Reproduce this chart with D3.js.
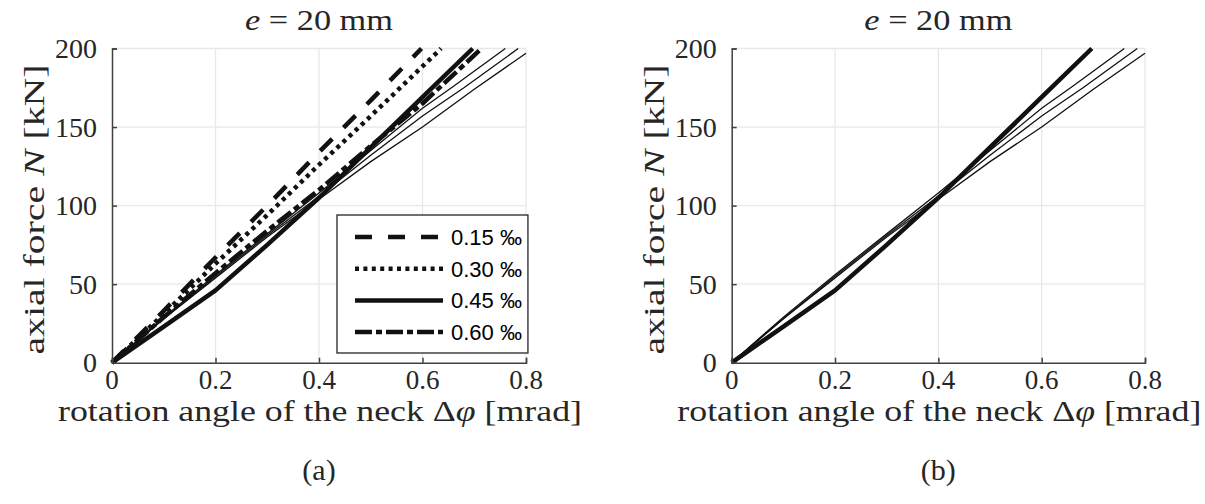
<!DOCTYPE html>
<html>
<head>
<meta charset="utf-8">
<script src="https://cdn.jsdelivr.net/npm/d3@7"></script>
<style>
  body { margin: 0; background: #fff; }
  svg { display: block; }
  .tick-label, .axis-label, .title, .sub { font-family: "Liberation Serif", serif; fill: #262626; }
  .leg-text { font-family: "Liberation Sans", Arial, sans-serif; fill: #000; }
</style>
</head>
<body>
<svg width="1205" height="504"></svg>
<script>
  var width = 1205;
  var height = 504;

  // axis ticks
  var xTicks = [0, 0.2, 0.4, 0.6, 0.8];
  var yTicks = [0, 50, 100, 150, 200];

  // thin reference curves (same in both panels)
  var thinA = [[0, 0], [0.1, 29], [0.2, 56], [0.3, 82], [0.4, 108], [0.5, 135], [0.6, 162], [0.66, 176], [0.76, 200]];
  var thinB = [[0, 0], [0.1, 28], [0.2, 55], [0.3, 81], [0.4, 106], [0.5, 132], [0.6, 157], [0.68, 175], [0.785, 200]];
  var thinC = [[0, 0], [0.1, 28], [0.2, 54], [0.3, 80], [0.4, 104], [0.5, 128], [0.6, 150], [0.70, 174], [0.80, 197]];

  // thick curves, panel (a)
  var s015 = [[0, 0], [0.1, 33], [0.2, 67], [0.3, 100], [0.4, 134], [0.5, 167], [0.598, 200]];
  var s030 = [[0, 0], [0.1, 31], [0.2, 63], [0.3, 94], [0.4, 126], [0.5, 157], [0.636, 200]];
  var s045 = [[0, 0], [0.1, 23], [0.2, 46], [0.3, 75], [0.4, 105], [0.5, 137], [0.6, 169], [0.697, 200]];
  var s060 = [[0, 0], [0.1, 29], [0.2, 57], [0.3, 84], [0.4, 110], [0.5, 138], [0.6, 165], [0.714, 200]];

  var legendLabels = ['0.15 ‰', '0.30 ‰', '0.45 ‰', '0.60 ‰'];
  var dashes = ['17,16', '4,4.4', null, '17,4,6,4'];

  var svg = d3.select('svg')
    .attr('width', width)
    .attr('height', height);

  function drawPanel(x0, x1, seriesThick, dashList, subLabel, withLegend) {
    var x = d3.scaleLinear().domain([0, 0.8]).range([x0, x1]);
    var y = d3.scaleLinear().domain([0, 200]).range([362.7, 48.5]);
    var g = svg.append('g');

    // grid
    g.selectAll('line.gx')
      .data(xTicks.slice(1))
      .enter()
      .append('line')
      .attr('x1', function (d) { return x(d); })
      .attr('x2', function (d) { return x(d); })
      .attr('y1', y(0))
      .attr('y2', y(200))
      .attr('stroke', '#e8e8e8')
      .attr('stroke-width', 1.3);
    g.selectAll('line.gy')
      .data(yTicks.slice(1))
      .enter()
      .append('line')
      .attr('x1', x(0))
      .attr('x2', x(0.8))
      .attr('y1', function (d) { return y(d); })
      .attr('y2', function (d) { return y(d); })
      .attr('stroke', '#e8e8e8')
      .attr('stroke-width', 1.3);

    var line = d3.line()
      .x(function (d) { return x(d[0]); })
      .y(function (d) { return y(d[1]); });

    // thin curves
    g.selectAll('path.thin')
      .data([thinA, thinB, thinC])
      .enter()
      .append('path')
      .attr('d', line)
      .attr('fill', 'none')
      .attr('stroke', '#111')
      .attr('stroke-width', 1.3);

    // thick curves
    g.selectAll('path.thick')
      .data(seriesThick)
      .enter()
      .append('path')
      .attr('d', line)
      .attr('fill', 'none')
      .attr('stroke', '#111')
      .attr('stroke-width', 4.5)
      .attr('stroke-linejoin', 'round')
      .attr('stroke-dasharray', function (d, i) { return dashList[i]; });

    // axes (ticks inward)
    var xAxis = d3.axisBottom(x).tickValues(xTicks).tickSize(-5).tickFormat('');
    var yAxis = d3.axisLeft(y).tickValues(yTicks).tickSize(-5).tickFormat('');
    g.append('g')
      .attr('transform', 'translate(0,' + y(0) + ')')
      .call(xAxis)
      .call(function (a) { a.selectAll('path, line').attr('stroke', '#404040').attr('stroke-width', 1.5); });
    g.append('g')
      .attr('transform', 'translate(' + x(0) + ',0)')
      .call(yAxis)
      .call(function (a) { a.selectAll('path, line').attr('stroke', '#404040').attr('stroke-width', 1.5); });

    // tick labels
    g.selectAll('text.xt')
      .data(xTicks)
      .enter()
      .append('text')
      .attr('class', 'tick-label')
      .attr('x', function (d) { return x(d); })
      .attr('y', 389)
      .attr('text-anchor', 'middle')
      .style('font-size', '27px')
      .text(function (d) { return d === 0 ? '0' : d3.format('.1f')(d); });
    g.selectAll('text.yt')
      .data(yTicks)
      .enter()
      .append('text')
      .attr('class', 'tick-label')
      .attr('x', x(0) - 15)
      .attr('y', function (d) { return y(d) + 9.5; })
      .attr('text-anchor', 'end')
      .style('font-size', '28px')
      .text(function (d) { return d; });

    var cx = (x0 + x1) / 2;

    // title
    var t = g.append('text')
      .attr('class', 'title')
      .attr('x', cx)
      .attr('y', 30)
      .attr('text-anchor', 'middle')
      .attr('textLength', 148)
      .attr('lengthAdjust', 'spacingAndGlyphs')
      .style('font-size', '30px');
    t.append('tspan').style('font-style', 'italic').text('e');
    t.append('tspan').text(' = 20 mm');

    // x label
    var xl = g.append('text')
      .attr('class', 'axis-label')
      .attr('x', cx + 1)
      .attr('y', 421)
      .attr('text-anchor', 'middle')
      .attr('textLength', 524)
      .attr('lengthAdjust', 'spacingAndGlyphs')
      .style('font-size', '29px');
    xl.append('tspan').text('rotation angle of the neck Δ');
    xl.append('tspan').style('font-style', 'italic').text('φ');
    xl.append('tspan').text(' [mrad]');

    // y label
    var yl = g.append('text')
      .attr('class', 'axis-label')
      .attr('transform', 'translate(' + (x0 - 68) + ',' + (y(100) + 4) + ') rotate(-90)')
      .attr('text-anchor', 'middle')
      .attr('textLength', 290)
      .attr('lengthAdjust', 'spacingAndGlyphs')
      .style('font-size', '30px');
    yl.append('tspan').text('axial force ');
    yl.append('tspan').style('font-style', 'italic').text('N');
    yl.append('tspan').text(' [kN]');

    // sub caption
    g.append('text')
      .attr('class', 'sub')
      .attr('x', cx)
      .attr('y', 480)
      .attr('text-anchor', 'middle')
      .style('font-size', '30px')
      .text(subLabel);

    if (withLegend) {
      var lg = g.append('g');
      var box = lg.append('rect')
        .attr('x', 337)
        .attr('y', 215)
        .attr('height', 138)
        .attr('fill', '#fff')
        .attr('stroke', '#262626')
        .attr('stroke-width', 1.3);
      var rows = lg.selectAll('g.row')
        .data(legendLabels)
        .enter()
        .append('g')
        .attr('transform', function (d, i) { return 'translate(0,' + (237 + i * 31.7) + ')'; });
      rows.append('line')
        .attr('x1', 355)
        .attr('x2', 443)
        .attr('stroke', '#111')
        .attr('stroke-width', 4.5)
        .attr('stroke-dasharray', function (d, i) { return dashes[i]; });
      rows.append('text')
        .attr('class', 'leg-text')
        .attr('x', 451)
        .attr('y', 8)
        .style('font-size', '22px')
        .text(function (d) { return d; });
      var maxW = 0;
      rows.selectAll('text').each(function () { maxW = Math.max(maxW, this.getComputedTextLength()); });
      box.attr('width', 451 + maxW + 6 - 337);
    }
  }

  drawPanel(112, 526, [s015, s030, s045, s060], dashes, '(a)', true);
  drawPanel(731.7, 1145, [s045], [null], '(b)', false);
</script>
</body>
</html>
